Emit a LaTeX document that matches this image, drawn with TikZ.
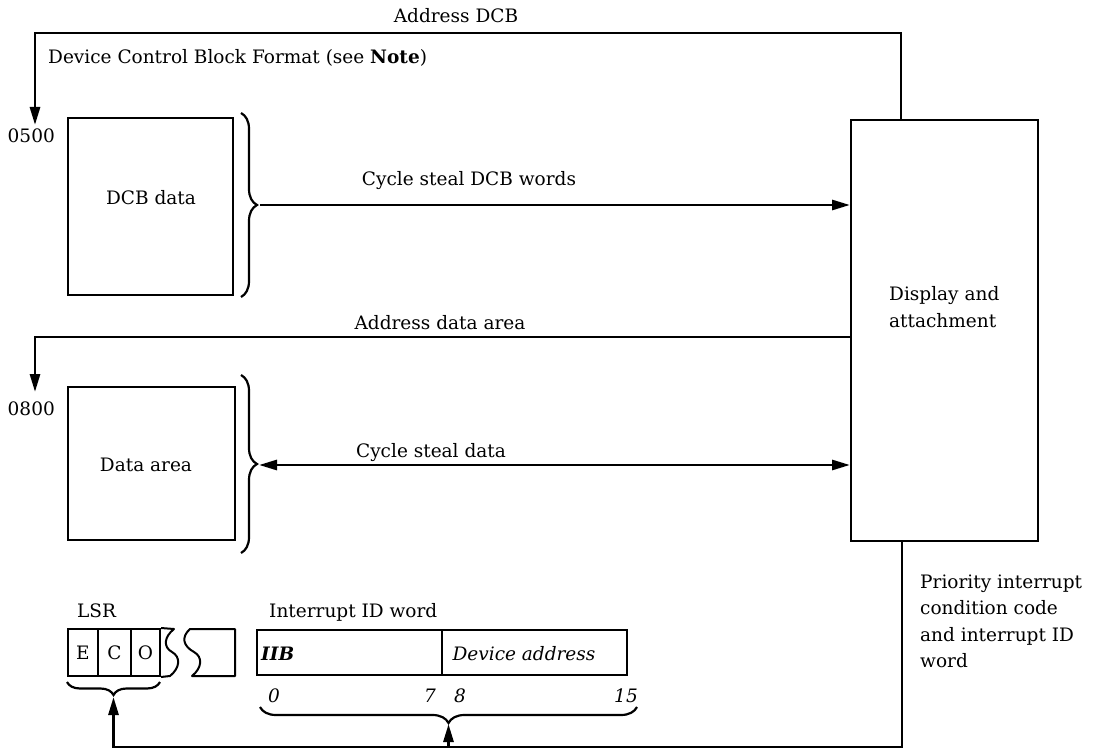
\documentclass[tikz,border=0pt]{standalone}
\usepackage{fontspec}
\setmainfont{DejaVu Serif}
\usetikzlibrary{arrows.meta,decorations.pathreplacing}
\begin{document}
\begin{tikzpicture}[x=1pt,y=-1pt,
  lbl/.style={font=\fontsize{18.5}{26.5}\selectfont, inner sep=0pt},
  itl/.style={font=\fontsize{18.5}{26.5}\selectfont\itshape, inner sep=0pt},
  box/.style={draw, line width=2pt, inner sep=0pt},
  cell/.style={draw, line width=2pt, inner sep=0pt, minimum height=47pt, font=\fontsize{18.5}{26.5}\selectfont},
  conn/.style={line width=2.8pt},
  arr/.style={-{Triangle[length=18pt,width=10pt]}},
  arrboth/.style={{Triangle[length=18pt,width=10pt]}-{Triangle[length=18pt,width=10pt]}},
  brc/.style={decorate, decoration={brace, amplitude=#1}, line width=2.2pt},
]
\useasboundingbox (0,0) rectangle (1097,751);

% main boxes
\node[box, minimum width=165pt, minimum height=177pt] (dcb) at (150.5,206.5) {};
\node[box, minimum width=167pt, minimum height=153pt] (data) at (151.5,463.5) {};
\node[box, minimum width=187pt, minimum height=421pt] (disp) at (944.5,330.5) {};

% texts
\node[lbl, anchor=base] (taddr) at (456,23) {Address DCB};
\node[lbl, anchor=base west] (tfmt) at (48,64) {Device Control Block Format (see \textbf{Note})};
\node[lbl, anchor=base east] (t0500) at (55,143) {0500};
\node[lbl, anchor=base] (tdcb) at (151,205) {DCB data};
\node[lbl, anchor=base] (tcs1) at (469,186) {Cycle steal DCB words};
\node[lbl, anchor=base west] (tdisp1) at (889,300) {Display and};
\node[lbl, anchor=base west] (tdisp2) at (889,327) {attachment};
\node[lbl, anchor=base] (tada) at (440,329) {Address data area};
\node[lbl, anchor=base east] (t0800) at (55,415) {0800};
\node[lbl, anchor=base] (tdata) at (146,471) {Data area};
\node[lbl, anchor=base] (tcs2) at (431,457) {Cycle steal data};
\node[lbl, anchor=base west] (tpri1) at (920,588) {Priority interrupt};
\node[lbl, anchor=base west] (tpri2) at (920,614.5) {condition code};
\node[lbl, anchor=base west] (tpri3) at (920,641) {and interrupt ID};
\node[lbl, anchor=base west] (tpri4) at (920,667.5) {word};
\node[lbl, anchor=base west] (tlsr) at (77,617) {LSR};
\node[lbl, anchor=base west] (tiid) at (269,617) {Interrupt ID word};

% LSR register
\node[cell, minimum width=30pt] (ce) at (83,652.5) {E};
\node[cell, minimum width=33pt] (cc) at (114.5,652.5) {C};
\node[cell, minimum width=29pt] (co) at (145.5,652.5) {O};
\draw[line width=2pt, line join=round]
  (co.north east) -- (174,629)
  .. controls (164,637) and (163,647) .. (172,652)
  .. controls (181,657) and (180,668) .. (170,676) -- (co.south east);
\draw[line width=2pt, line join=round]
  (190,629) -- (235,629) -- (235,676) -- (192,676)
  .. controls (202,668) and (203,657) .. (194,652)
  .. controls (183,646) and (181,637) .. (190,629) -- cycle;

% interrupt ID word
\node[box, minimum width=185pt, minimum height=45pt] (iib) at (349.5,652.5) {};
\node[box, minimum width=185pt, minimum height=45pt] (dev) at (534.5,652.5) {};
\node[itl, anchor=base west, font=\fontsize{18.5}{26.5}\selectfont\bfseries\itshape] (tiib) at (261,660) {IIB};
\node[itl, anchor=base] (tdev) at (524,660) {Device address};
\node[itl, anchor=base] (n0) at (274,702) {0};
\node[itl, anchor=base] (n7) at (430,702) {7};
\node[itl, anchor=base] (n8) at (460,702) {8};
\node[itl, anchor=base] (n15) at (626,702) {15};

% braces
\draw[brc=16pt] (241,113) -- (241,297);
\draw[brc=16pt] (241,375) -- (241,553);
\draw[brc=13pt] (160,682) -- (67,682);
\draw[brc=16pt] (637,707) -- (260,707);

% coordinates
\coordinate (c1) at (901,33);
\coordinate (a1) at (35,125);
\coordinate (b1) at (260,205);
\coordinate (a2l) at (35,337);
\coordinate (a2) at (35,392);
\coordinate (b2) at (259,465);
\coordinate (c3) at (902,747);
\coordinate (lsrtip) at (113.5,697);
\coordinate (inttip) at (448.5,724);

% connectors
\draw[conn, arr] (disp.north -| c1) -- (c1) -| (a1);
\draw[conn, arr] (b1) -- (b1 -| disp.west);
\draw[conn, arr] (a2l -| disp.west) -| (a2);
\draw[conn, arrboth] (b2) -- (b2 -| disp.west);
\draw[conn, arr] (disp.south -| c3) -- (c3) -| (lsrtip);
\draw[conn, arr] (inttip |- c3) -- (inttip);
\end{tikzpicture}
\end{document}
